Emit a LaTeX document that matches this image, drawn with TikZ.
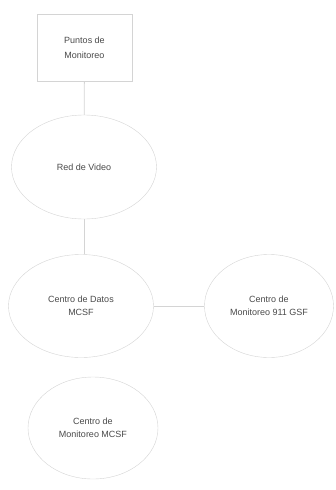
\documentclass[tikz,border=0pt]{standalone}
\usepackage{fontspec}
\setmainfont{Liberation Sans}
\usepackage{tikz}
\usetikzlibrary{positioning,shapes.geometric}
\definecolor{edge}{HTML}{D4D4D4}
\definecolor{ink}{HTML}{4A4A4A}

\begin{document}
\begin{tikzpicture}[x=1pt,y=-1pt,
  box/.style={rectangle,draw=edge,fill=white,minimum width=95pt,minimum height=67pt,font=\fontsize{9}{15}\selectfont,text=ink,align=center},
  oval/.style={ellipse,draw=edge,fill=white,inner sep=0pt,font=\fontsize{9}{13}\selectfont,text=ink,align=center},
  link/.style={edge,line width=0.8pt}]
\useasboundingbox (0,0) rectangle (336,490);
\node[box] (puntos) at (84.5,48) {Puntos de\\Monitoreo};
\node[oval,minimum width=145pt,minimum height=104pt] (red) at (84,167) {Red de Video};
\node[oval,minimum width=145pt,minimum height=103pt] (datos) at (81,306) {Centro de Datos\\MCSF};
\node[oval,minimum width=129pt,minimum height=103pt] (c911) at (269,306) {Centro de\\Monitoreo 911 GSF};
\node[oval,minimum width=130pt,minimum height=102pt] (cmcsf) at (93,428) {Centro de\\Monitoreo MCSF};
\draw[link] (puntos) -- (red);
\draw[link] (red.south) -- (red.south |- datos.north);
\draw[link] (datos) -- (c911);
\end{tikzpicture}
\end{document}
